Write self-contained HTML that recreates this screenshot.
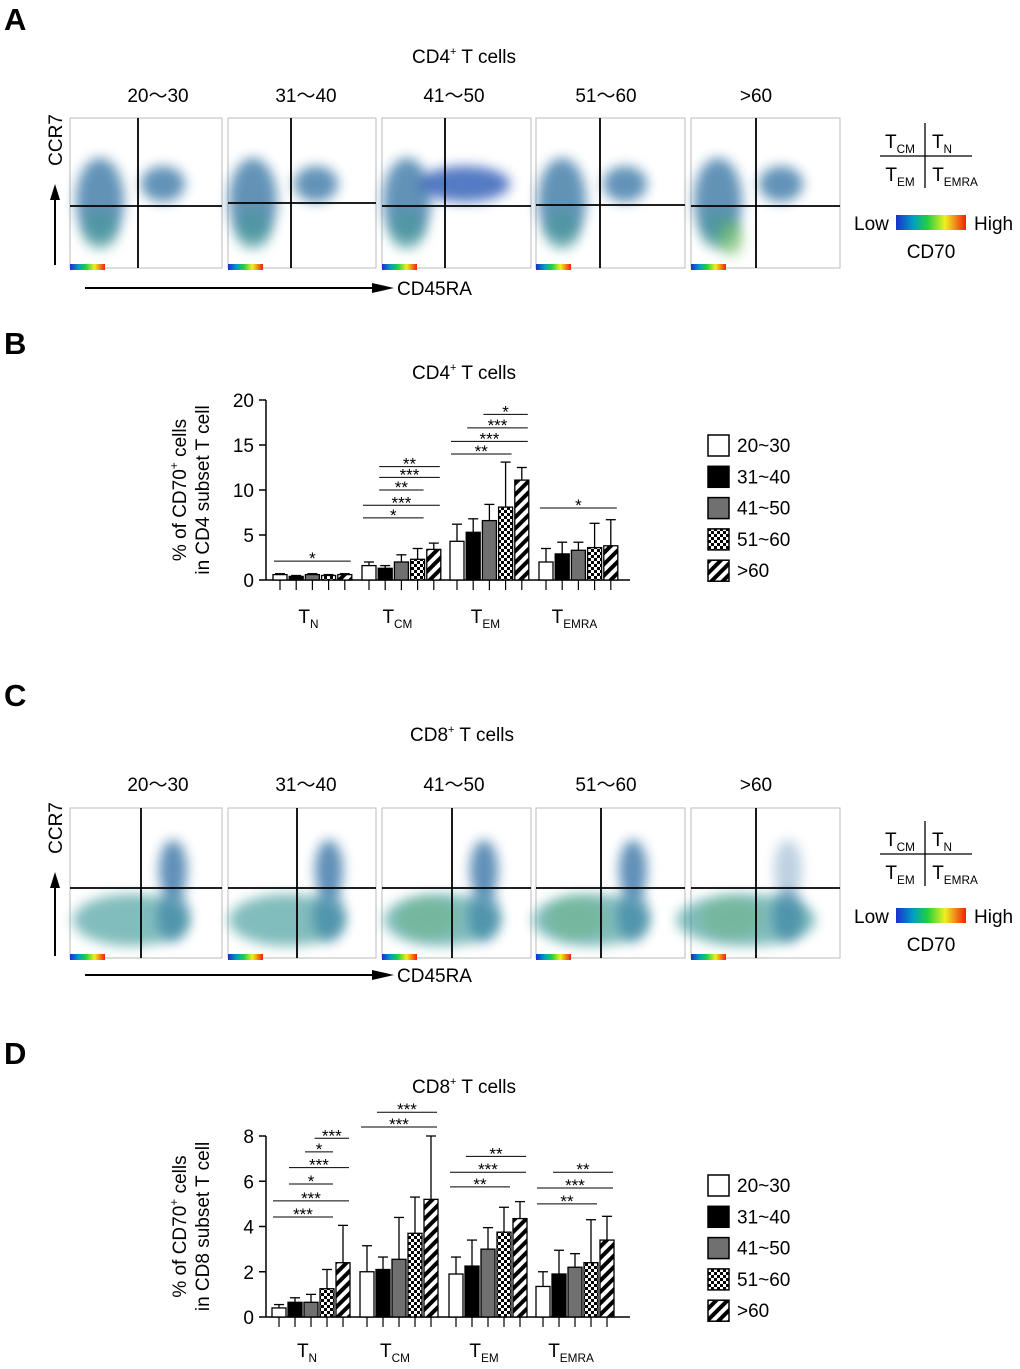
<!DOCTYPE html>
<html><head><meta charset="utf-8">
<style>
html,body{margin:0;padding:0;background:#fff;}
svg{display:block;font-family:"Liberation Sans",Arial,sans-serif;}
</style></head>
<body>
<svg id="fig" width="1020" height="1369" viewBox="0 0 1020 1369" xmlns="http://www.w3.org/2000/svg">
<defs>
  <linearGradient id="cbar" x1="0" x2="1" y1="0" y2="0">
    <stop offset="0" stop-color="#1a2fd0"/><stop offset="0.25" stop-color="#00a0c0"/>
    <stop offset="0.45" stop-color="#20d040"/><stop offset="0.7" stop-color="#f0f020"/>
    <stop offset="1" stop-color="#f02010"/>
  </linearGradient>
  <pattern id="checker" width="6" height="6" patternUnits="userSpaceOnUse">
    <rect width="6" height="6" fill="#fff"/><rect width="3" height="3" fill="#000"/><rect x="3" y="3" width="3" height="3" fill="#000"/>
  </pattern>
  <pattern id="stripe" width="8" height="8" patternUnits="userSpaceOnUse" patternTransform="rotate(45)">
    <rect width="8" height="8" fill="#fff"/><rect width="4" height="8" fill="#000"/>
  </pattern>
  <filter id="blur" x="-50%" y="-50%" width="200%" height="200%"><feGaussianBlur stdDeviation="6"/></filter>
</defs>
<g id="panels"></g>
</svg>
<script>
// ===== Bar chart data =====
const groupsB = ["N","CM","EM","EMRA"];
const ageGroups = ["20~30","31~40","41~50","51~60",">60"];
// CD4 (panel B) means, per group, per age
const cd4Mean = [[0.6,0.4,0.6,0.5,0.6],[1.6,1.3,2.0,2.3,3.4],[4.3,5.3,6.6,8.1,11.1],[2.0,2.9,3.3,3.6,3.8]];
const cd4ErrTop = [[0.7,0.5,0.7,0.6,0.7],[2.0,1.6,2.8,3.5,4.1],[6.2,6.8,8.4,13.1,12.5],[3.5,4.2,4.2,6.3,6.7]];
const cd4Ticks = [0,5,10,15,20];
// significance: [group, fromBar, toBar, yValue, label]
const cd4Sig = [[0,0,4,2.1,"*"],[1,0,3,6.9,"*"],[1,0,4,8.3,"***"],[1,1,3,10.0,"**"],[1,1,4,11.4,"***"],[1,1,4,12.6,"**"],
  [2,0,3,14.0,"**"],[2,0,4,15.4,"***"],[2,1,4,16.9,"***"],[2,2,4,18.4,"*"],[3,0,4,8.0,"*"]];
// CD8 (panel D)
const cd8Mean = [[0.4,0.65,0.65,1.25,2.4],[2.0,2.1,2.55,3.7,5.2],[1.9,2.25,3.0,3.75,4.35],[1.35,1.9,2.2,2.4,3.4]];
const cd8ErrTop = [[0.55,0.85,1.0,2.1,4.05],[3.15,2.65,4.4,5.3,8.0],[2.65,3.4,3.95,4.85,5.1],[2.0,2.95,2.8,4.3,4.45]];
const cd8Ticks = [0,2,4,6,8];
const cd8Sig = [[0,0,3,4.42,"***"],[0,0,4,5.13,"***"],[0,1,3,5.88,"*"],[0,1,4,6.6,"***"],[0,2,3,7.3,"*"],[0,2.6,4,7.9,"***"],
  [1,0,4,8.4,"***"],[1,1,4,9.05,"***"],
  [2,0,3,5.75,"**"],[2,0,4,6.4,"***"],[2,1,4,7.1,"**"],
  [3,0,3,5.0,"**"],[3,0,4,5.7,"***"],[3,1,4,6.4,"**"]];

const NS="http://www.w3.org/2000/svg";
const root=document.getElementById('panels');
function mk(tag,attrs,parent,text){const e=document.createElementNS(NS,tag);for(const k in attrs)e.setAttribute(k,attrs[k]);if(text!==undefined)e.textContent=text;(parent||root).appendChild(e);return e;}
const fills=["#fff","#000","#707070","url(#checker)","url(#stripe)"];

function subLabel(parent,x,y,sub,size){
  const t=mk('text',{x:x,y:y,'font-size':size,'text-anchor':'middle'},parent);
  const a=document.createElementNS(NS,'tspan');a.textContent='T';t.appendChild(a);
  const b=document.createElementNS(NS,'tspan');b.setAttribute('font-size',size*0.62);b.setAttribute('dy',size*0.25);b.textContent=sub;t.appendChild(b);
  return t;
}

function barChart(cfg){
  const g=mk('g',{});
  
  
  const yMax=cfg.ticks[cfg.ticks.length-1];
  const yS=v=>cfg.y0-(v/yMax)*(cfg.y0-cfg.yTop);
  const xS=(gi,bi)=>cfg.gx[gi]+bi*cfg.step;
  const ya=mk('line',{x1:cfg.ax,x2:cfg.ax,y1:cfg.yTop,y2:cfg.y0,stroke:'#000','stroke-width':1.5},g);
  
  const xa=mk('line',{x1:cfg.ax,x2:cfg.axEnd,y1:cfg.y0,y2:cfg.y0,stroke:'#000','stroke-width':1.5},g);
  
  cfg.ticks.forEach(t=>{
    mk('line',{x1:cfg.ax-7,x2:cfg.ax,y1:yS(t),y2:yS(t),stroke:'#000','stroke-width':1.5},g);
    const tl=mk('text',{x:cfg.ax-12,y:yS(t)+7,'font-size':19,'text-anchor':'end'},g,String(t));
    
  });
  cfg.mean.forEach((row,gi)=>{
    row.forEach((v,bi)=>{
      const cx=xS(gi,bi);
      mk('line',{x1:cx,x2:cx,y1:cfg.y0,y2:cfg.y0+10,stroke:'#000','stroke-width':1.2},g);
      const top=cfg.err[gi][bi];
      mk('line',{x1:cx,x2:cx,y1:yS(v),y2:yS(top),stroke:'#000','stroke-width':1.3},g);
      mk('line',{x1:cx-5,x2:cx+5,y1:yS(top),y2:yS(top),stroke:'#000','stroke-width':1.3},g);
      const r=mk('rect',{x:cx-7,y:yS(v),width:14,height:cfg.y0-yS(v),fill:fills[bi],stroke:'#000','stroke-width':1.3},g);
      
      
    });
    const gl=subLabel(g,xS(gi,2)-4,cfg.labY,cfg.groups[gi],19);
    
  });
  cfg.sig.forEach(s=>{
    const x1=xS(s[0],s[1])-6,x2=xS(s[0],s[2])+6,y=yS(s[3]);
    const l=mk('line',{x1:x1,x2:x2,y1:y,y2:y,stroke:'#000','stroke-width':1},g);
    
    mk('text',{x:(x1+x2)/2,y:y+3,'font-size':17,'text-anchor':'middle'},g,s[4]);
  });
  const yt=mk('text',{transform:`translate(${cfg.ax-78},${(cfg.y0+cfg.yTop)/2}) rotate(-90)`,'font-size':19,'text-anchor':'middle'},g);
  const t1=document.createElementNS(NS,'tspan');t1.setAttribute('x',0);t1.setAttribute('dy',-2);t1.textContent='% of CD70';yt.appendChild(t1);
  const t1s=document.createElementNS(NS,'tspan');t1s.setAttribute('font-size',12);t1s.setAttribute('dy',-8);t1s.textContent='+';yt.appendChild(t1s);
  const t1b=document.createElementNS(NS,'tspan');t1b.setAttribute('dy',8);t1b.textContent=' cells';yt.appendChild(t1b);
  const t2=document.createElementNS(NS,'tspan');t2.setAttribute('x',0);t2.setAttribute('dy',23);t2.textContent=cfg.ytitle;yt.appendChild(t2);
  
  ageGroups.forEach((a,i)=>{
    const y=cfg.legY+i*31.3;
    const lr=mk('rect',{x:708,y:y,width:21,height:21,fill:fills[i],stroke:'#000','stroke-width':1.5},g);
    
    const lt=mk('text',{x:737,y:y+17,'font-size':19},g,a);
    
  });
}

barChart({name:'cd4-bar-chart',mean:cd4Mean,err:cd4ErrTop,ticks:cd4Ticks,sig:cd4Sig,groups:groupsB,
  y0:580,yTop:400,ax:266,axEnd:630,gx:[280,369,457,546],step:16.2,labY:623,ytitle:'in CD4 subset T cell',legY:435});
barChart({name:'cd8-bar-chart',mean:cd8Mean,err:cd8ErrTop,ticks:cd8Ticks,sig:cd8Sig,groups:groupsB,
  y0:1317,yTop:1136,ax:266,axEnd:630,gx:[279,367,456,543],step:16,labY:1357,ytitle:'in CD8 subset T cell',legY:1175});

// ===== Flow cytometry panels (illustrative blobs) =====
const boxesX=[[70,222],[228,376],[382,531],[536,685],[691,840]];
function flowPanel(top,vlines,hline,type,pname){
  const g=mk('g',{});
  
  boxesX.forEach((b,i)=>{
    const w=b[1]-b[0],h=150,x=b[0],y=top;
    const pg=mk('g',{},g);
    
    mk('rect',{x:x,y:y,width:w,height:h,fill:'#fff',stroke:'#bbb','stroke-width':1},pg);
    const vx=vlines[i];
    if(type==='A'){
      mk('ellipse',{cx:vx-38,cy:y+82,rx:24,ry:42,fill:'#2f6fa0',opacity:0.75,filter:'url(#blur)'},pg);
      mk('ellipse',{cx:vx-38,cy:y+112,rx:18,ry:20,fill:'#3f9a90',opacity:0.5,filter:'url(#blur)'},pg);
      const rx=i===2?45:22;
      mk('ellipse',{cx:vx+(i===2?20:25),cy:y+66,rx:rx,ry:18,fill:i===2?'#1f50b0':'#2f6fa0',opacity:0.75,filter:'url(#blur)'},pg);
      if(i===4) mk('ellipse',{cx:vx-25,cy:y+120,rx:12,ry:18,fill:'#70c060',opacity:0.6,filter:'url(#blur)'},pg);
    }else{
      const ext=i===4?1.2:1;
      mk('ellipse',{cx:vx-10,cy:y+112,rx:58*ext,ry:26,fill:'#3f9a9a',opacity:0.65,filter:'url(#blur)'},pg);
      mk('ellipse',{cx:vx+32,cy:y+62,rx:14,ry:30,fill:'#2a6aa0',opacity:i===4?0.3:0.75,filter:'url(#blur)'},pg);
      mk('ellipse',{cx:vx+32,cy:y+108,rx:16,ry:26,fill:'#2f7aa0',opacity:0.6,filter:'url(#blur)'},pg);
      if(i>=2) mk('ellipse',{cx:vx-25,cy:y+110,rx:30,ry:20,fill:'#60b070',opacity:0.4,filter:'url(#blur)'},pg);
    }
    mk('line',{x1:vx,x2:vx,y1:y,y2:y+h,stroke:'#000','stroke-width':1.8},pg);
    mk('line',{x1:x,x2:b[1],y1:hline[i],y2:hline[i],stroke:'#000','stroke-width':1.8},pg);
    mk('rect',{x:x,y:y+146,width:35,height:6,fill:'url(#cbar)'},pg);
  });
}
flowPanel(118,[138,291,445,600,756],[206,203,206,205,206],'A','cd4-flow-panel');
flowPanel(808,[141,297,452,601,756],[888,888,888,888,888],'C','cd8-flow-panel');

function txt(x,y,s,size,name,anchor,weight){const t=mk('text',{x:x,y:y,'font-size':size,'text-anchor':anchor||'start','font-weight':weight||'normal'},root,s);return t;}
function supTitle(x,y,base,name){const t=mk('text',{x:x,y:y,'font-size':19,'text-anchor':'middle'});const a=document.createElementNS(NS,'tspan');a.textContent=base;t.appendChild(a);const b=document.createElementNS(NS,'tspan');b.setAttribute('font-size',11);b.setAttribute('dy',-8);b.textContent='+';t.appendChild(b);const c=document.createElementNS(NS,'tspan');c.setAttribute('dy',8);c.textContent=' T cells';t.appendChild(c);}

txt(4,30,'A',31,'panel-label-a','start','bold');
txt(4,354,'B',31,'panel-label-b','start','bold');
txt(4,706,'C',31,'panel-label-c','start','bold');
txt(4,1064,'D',31,'panel-label-d','start','bold');
supTitle(464,63,'CD4','panel-a-title');
supTitle(464,379,'CD4','panel-b-title');
supTitle(462,741,'CD8','panel-c-title');
supTitle(464,1093,'CD8','panel-d-title');

const ages=["20\uFF5E30","31\uFF5E40","41\uFF5E50","51\uFF5E60",">60"];
const ageX=[158,306,454,606,756];
[102,791].forEach(yy=>ages.forEach((a,i)=>txt(ageX[i],yy,a,19,'age-group-header','middle')));

function axesArrows(topY,arrowTop,axY,lblY){
  const g=mk('g',{});
  
  mk('line',{x1:55,x2:55,y1:arrowTop+14,y2:axY,stroke:'#000','stroke-width':2},g);
  mk('polygon',{points:`50,${arrowTop+16} 60,${arrowTop+16} 55,${arrowTop}`,fill:'#000'},g);
  mk('text',{transform:`translate(62,${topY}) rotate(-90)`,'font-size':19,'text-anchor':'middle'},g,'CCR7');
  mk('line',{x1:85,x2:375,y1:lblY-6,y2:lblY-6,stroke:'#000','stroke-width':2},g);
  mk('polygon',{points:`372,${lblY-11} 372,${lblY-1} 394,${lblY-6}`,fill:'#000'},g);
  mk('text',{x:397,y:lblY+1,'font-size':19},g,'CD45RA');
}
axesArrows(140,184,265,294);
axesArrows(828,872,956,981);

function quadLegend(cy,lowY){
  const g=mk('g',{});
  
  mk('line',{x1:925,x2:925,y1:cy-35,y2:cy+30,stroke:'#000','stroke-width':1.3},g);
  mk('line',{x1:880,x2:972,y1:cy-2,y2:cy-2,stroke:'#000','stroke-width':1.3},g);
  subLabel(g,900,cy-10,'CM',19);subLabel(g,942,cy-10,'N',19);
  subLabel(g,900,cy+23,'EM',19);subLabel(g,955,cy+23,'EMRA',19);
  mk('text',{x:854,y:lowY,'font-size':19},g,'Low');
  const cb=mk('rect',{x:896,y:lowY-15,width:70,height:15,fill:'url(#cbar)'},g);
  
  mk('text',{x:974,y:lowY,'font-size':19},g,'High');
  mk('text',{x:931,y:lowY+28,'font-size':19,'text-anchor':'middle'},g,'CD70');
}
quadLegend(158,230);
quadLegend(856,923);
</script>
</body></html>
